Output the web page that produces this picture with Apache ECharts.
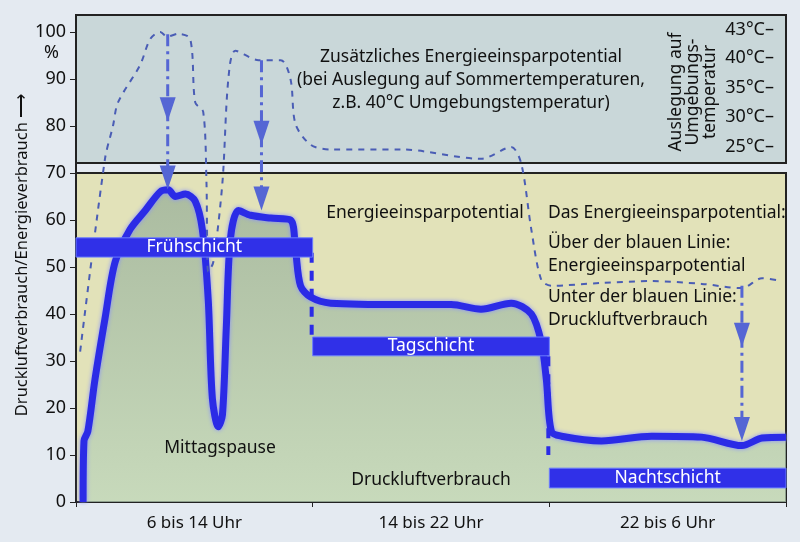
<!DOCTYPE html>
<html><head><meta charset="utf-8">
<script src="https://cdn.jsdelivr.net/npm/echarts@6/dist/echarts.min.js"></script>
<style>html,body{margin:0;padding:0;background:#e4eaf1}#c{width:800px;height:542px}</style>
</head><body><div id="c"></div>
<script>
// hours since 6 Uhr, value in %
const druckluft = [[0.24,0],[0.27,13],[0.4,15],[0.64,26],[0.98,39],[1.32,51],[1.83,58],[2.34,62],[2.85,66],[3.12,66.4],[3.36,65],[3.7,65.5],[4.03,64],[4.27,58],[4.47,43],[4.61,22],[4.81,16],[4.95,18.5],[5.08,37],[5.22,56],[5.49,62],[5.9,61],[6.58,60.4],[7.25,60],[7.42,53.6],[7.59,46],[7.93,43.6],[8.61,42.3],[11.0,42],[12.68,42],[13.69,41],[14.71,42.3],[15.39,40],[15.73,34],[15.9,26],[16.07,15],[16.41,14],[17.76,13],[19.46,14],[21.15,13.8],[22.51,12],[23.19,13.6],[24,13.8]];
const energie = [[0.14,32],[0.98,73],[1.25,80],[1.42,85],[2.17,93],[2.51,98.5],[2.85,100],[3.08,99],[3.46,99.6],[3.86,98.5],[4.03,85],[4.3,83],[4.41,68],[4.47,49],[4.64,51],[4.95,68],[5.15,90],[5.39,96],[6.17,94],[6.92,94],[7.25,90],[7.42,80.4],[7.93,76],[8.61,75],[11.0,75],[13.69,73],[14.71,75.5],[15.05,72],[15.39,58],[15.73,47.2],[16.07,46],[17.76,46.6],[19.46,47],[21.15,46.4],[22.51,45.5],[23.19,47.6],[23.86,47]];
const schichten = [[0,8,52.1,56.2,'Frühschicht'],[8,16,31.1,35.1,'Tagschicht'],[16,24,3.0,7.2,'Nachtschicht']];
const pfeile = [[3.1,99.5,66.5,81],[6.27,94,62,76],[22.51,46,13,33]];
const wechsel = [[8,53,35],[16,31,10]];
const zeitLabels = {4:'6 bis 14 Uhr',12:'14 bis 22 Uhr',20:'22 bis 6 Uhr'};
const tempLabels = [['43°C–',100.5],['40°C–',94.5],['35°C–',88],['30°C–',82],['25°C–',75.5]];
const legendeZeilen = [['Das Energieeinsparpotential:',213],['Über der blauen Linie:',243],['Energieeinsparpotential',266],['Unter der blauen Linie:',297],['Druckluftverbrauch',320]];

const chart = echarts.init(document.getElementById('c'));
const F = '"Noto Sans", sans-serif';
const FS = '17.5px ';
const T = (o)=>Object.assign({type:'text',z:100},o);
chart.setOption({
  animation:false,
  backgroundColor:'#e4eaf1',
  grid:{left:76,right:14,top:15,bottom:40},
  xAxis:[{type:'value',min:0,max:24,interval:8,axisLine:{lineStyle:{color:'#222',width:2}},axisTick:{length:5,lineStyle:{color:'#222'}},axisLabel:{show:false},splitLine:{show:false}},
         {type:'value',min:0,max:24,interval:4,position:'bottom',axisLine:{show:false},axisTick:{show:false},splitLine:{show:false},
          axisLabel:{margin:13,color:'#111',fontSize:17,fontFamily:F,formatter:v=>zeitLabels[v]||''}}],
  yAxis:{type:'value',min:0,max:103.6,interval:10,axisLine:{show:true,lineStyle:{color:'#222',width:2}},axisTick:{show:true,length:6,lineStyle:{color:'#222'}},splitLine:{show:false},
    axisLabel:{showMaxLabel:false,color:'#111',fontSize:18,fontFamily:F,margin:10}},
  graphic:[
    T({left:44,top:44,style:{text:'%',font:'18px '+F,fill:'#111'}}),
    T({x:22,y:255,rotation:Math.PI/2,style:{text:'Druckluftverbrauch/Energieverbrauch ⟶',font:'16.5px '+F,fill:'#111',align:'center',verticalAlign:'middle'}}),
    T({x:471,y:80,style:{text:'Zusätzliches Energieeinsparpotential\n(bei Auslegung auf Sommertemperaturen,\nz.B. 40°C Umgebungstemperatur)',font:FS+F,fill:'#111',align:'center',verticalAlign:'middle',lineHeight:23}}),
    T({x:693,y:92,rotation:Math.PI/2,style:{text:'Auslegung auf\nUmgebungs-\ntemperatur',font:FS+F,fill:'#111',align:'center',verticalAlign:'middle',lineHeight:17}}),
    T({x:425,y:213,style:{text:'Energieeinsparpotential',font:FS+F,fill:'#111',align:'center',verticalAlign:'middle'}}),
    T({x:220,y:448,style:{text:'Mittagspause',font:FS+F,fill:'#111',align:'center',verticalAlign:'middle'}}),
    T({x:431,y:480,style:{text:'Druckluftverbrauch',font:FS+F,fill:'#111',align:'center',verticalAlign:'middle'}})
  ].concat(legendeZeilen.map(l=>T({x:548,y:l[1],style:{text:l[0],font:FS+F,fill:'#111',verticalAlign:'middle'}}))),
  series:[
    {type:'line',data:[],markArea:{silent:true,data:[
      [{xAxis:0,yAxis:72.1,itemStyle:{color:'#c9d7d9',borderColor:'#222',borderWidth:2}},{xAxis:24,yAxis:103.6}],
      [{xAxis:0,yAxis:0,itemStyle:{color:'#e2e2b9',borderColor:'#222',borderWidth:2}},{xAxis:24,yAxis:70}]]}},
    {type:'line',data:druckluft,smooth:0.3,symbol:'none',z:3,
      lineStyle:{color:'#2b2be6',width:7,shadowColor:'#8890ff',shadowBlur:4},
      areaStyle:{color:new echarts.graphic.LinearGradient(0,0,0,1,[{offset:0,color:'#93ab96'},{offset:1,color:'#bcd6bc'}])}},
    {type:'line',data:energie,smooth:0.3,symbol:'none',z:4,lineStyle:{color:'#4a5db5',width:2,type:[6,6]}},
    {type:'custom',z:5,data:wechsel,renderItem:(p,api)=>{const a=api.coord([api.value(0),api.value(1)]),b=api.coord([api.value(0),api.value(2)]);
      return {type:'line',shape:{x1:a[0]-1,y1:a[1],x2:b[0]-1,y2:b[1]},style:{stroke:'#2b2be6',lineWidth:4,lineDash:[10,8]}};}},
    {type:'custom',z:6,data:schichten,renderItem:(p,api)=>{const a=api.coord([api.value(0),api.value(3)]),b=api.coord([api.value(1),api.value(2)]);
      return {type:'rect',shape:{x:a[0],y:a[1],width:b[0]-a[0],height:b[1]-a[1]},style:{fill:'#3030e8',stroke:'#6a7cff',lineWidth:1},
        textContent:{style:{text:api.value(4),fill:'#fff',font:FS+F}},textConfig:{position:'inside'}};}},
    {type:'custom',z:7,data:pfeile,renderItem:(p,api)=>{const x=api.coord([api.value(0),0])[0];const t=api.coord([0,api.value(1)])[1],b=api.coord([0,api.value(2)])[1],m=api.coord([0,api.value(3)])[1];
      const tri=y=>({type:'polygon',shape:{points:[[x-8,y-24],[x+8,y-24],[x,y]]},style:{fill:'#5566d4'}});
      return {type:'group',children:[{type:'line',shape:{x1:x,y1:t,x2:x,y2:b-20},style:{stroke:'#5566d4',lineWidth:3,lineDash:[12,5,3,5]}},tri(m),tri(b)]};}},
    {type:'custom',z:8,data:tempLabels.map(t=>[24,t[1],t[0]]),renderItem:(p,api)=>{const c=api.coord([24,api.value(1)]);
      return {type:'text',x:c[0]-12,y:c[1],style:{text:api.value(2),font:'18px '+F,fill:'#111',align:'right',verticalAlign:'middle'}};}}
  ]
});
</script></body></html>
